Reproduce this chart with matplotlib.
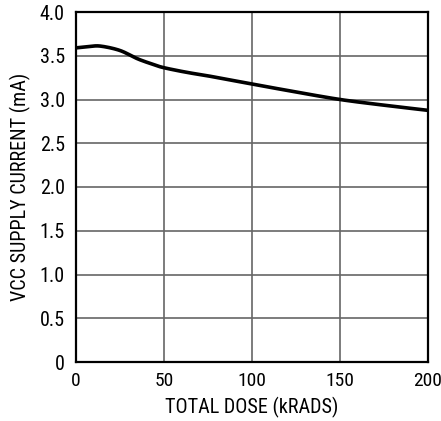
import matplotlib
matplotlib.use("Agg")
import matplotlib.pyplot as plt
import numpy as np

plt.rcParams['font.family'] = ['Roboto Condensed', 'DejaVu Sans']

dose = [0, 7, 14, 25, 35, 44, 50, 63, 75, 100, 125, 150, 175, 200]
current = [3.59, 3.605, 3.61, 3.56, 3.465, 3.40, 3.363, 3.31, 3.27, 3.177, 3.086, 3.00, 2.935, 2.876]
xticks = [0, 50, 100, 150, 200]
yticks = [0, 0.5, 1.0, 1.5, 2.0, 2.5, 3.0, 3.5, 4.0]
ytick_labels = ['0', '0.5', '1.0', '1.5', '2.0', '2.5', '3.0', '3.5', '4.0']

fig = plt.figure(figsize=(4.41, 4.21), dpi=100)
ax = fig.add_axes([76/441, 59/421, 352/441, 350/421])


def catmull(x, y, n=30):
    px, py = [], []
    x = np.array(x, float); y = np.array(y, float)
    X = np.concatenate([[2*x[0]-x[1]], x, [2*x[-1]-x[-2]]])
    Y = np.concatenate([[2*y[0]-y[1]], y, [2*y[-1]-y[-2]]])
    for i in range(1, len(X)-2):
        t = np.linspace(0, 1, n, endpoint=False)
        for arr, out in ((X, px), (Y, py)):
            p0, p1, p2, p3 = arr[i-1], arr[i], arr[i+1], arr[i+2]
            out.extend(0.5*((2*p1) + (-p0+p2)*t + (2*p0-5*p1+4*p2-p3)*t**2 + (-p0+3*p1-3*p2+p3)*t**3))
    px.append(x[-1]); py.append(y[-1])
    return px, py


sx, sy = catmull(dose, current)
ax.plot(sx, sy, color='black', lw=2.6, solid_capstyle='butt', zorder=3)

ax.set_xlim(0, 200)
ax.set_ylim(0, 4.0)
ax.set_xticks(xticks)
ax.set_yticks(yticks)
ax.set_yticklabels(ytick_labels)
ax.grid(True, color='#666666', lw=1.2)
ax.tick_params(length=0, labelsize=14.5)
ax.tick_params(axis='x', pad=7, labelsize=14)
ax.tick_params(axis='y', pad=8)
for s in ax.spines.values():
    s.set_linewidth(1.6)
    s.set_zorder(4)
ax.set_xlabel('TOTAL DOSE (kRADS)', fontsize=14.5, labelpad=5)
ax.set_ylabel('VCC SUPPLY CURRENT (mA)', fontsize=14.5, labelpad=6)

fig.savefig('out.png', dpi=100)
